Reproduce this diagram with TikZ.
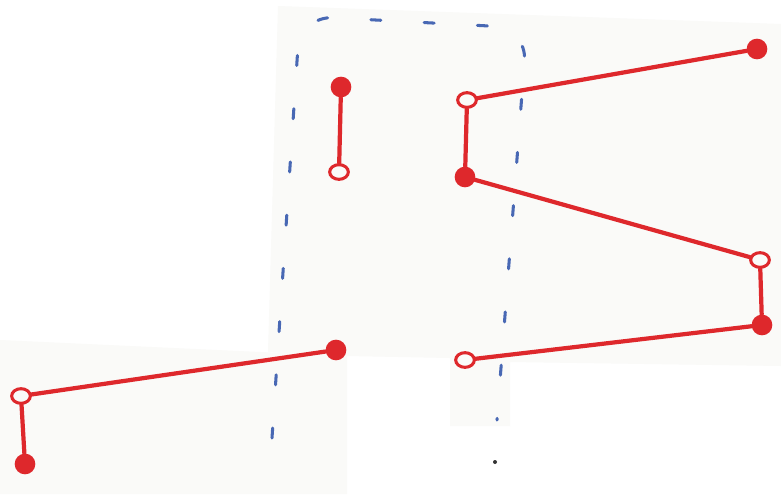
\documentclass[tikz,border=0pt]{standalone}
\usetikzlibrary{shapes.geometric}
\definecolor{inkred}{RGB}{222, 40, 44}
\definecolor{inkblue}{RGB}{72, 104, 180}
\definecolor{paper}{RGB}{250, 250, 248}

\begin{document}
\begin{tikzpicture}[
  x=0.03cm, y=-0.03cm,
  wire/.style={draw=inkred, line width=3.6pt, line cap=round},
  fulldot/.style={circle, fill=inkred, inner sep=0pt, minimum size=0.62cm},
  opendot/.style={ellipse, draw=inkred, line width=2.6pt, fill=paper, inner sep=0pt,
    minimum width=0.56cm, minimum height=0.44cm},
  guide/.style={draw=inkblue, line width=2.6pt, line cap=round,
    dash pattern=on 0.3cm off 1.3cm}
]
  \useasboundingbox[fill=white] (0,0) rectangle (781,494);

  % Paper pieces
  \fill[paper] (278,6) -- (781,24) -- (781,366) -- (510,362) -- (510,426) -- (450,426)
    -- (450,358) -- (347,356) -- (268,352) -- cycle;
  \fill[paper] (0,340) -- (347,356) -- (347,494) -- (0,494) -- cycle;

  % Dashed outline
  \draw[guide, rounded corners=28pt] (272,438) -- (300,16) -- (527,28) -- (497,420);

  % Short link
  \node[fulldot] (t1) at (341,87) {};
  \node[opendot] (t2) at (339,172) {};
  \draw[wire] (t1) -- (t2);

  % Right chain
  \node[fulldot] (r1) at (757,49) {};
  \node[opendot] (r2) at (467,100) {};
  \node[fulldot] (r3) at (465,177) {};
  \node[opendot] (r4) at (760,260) {};
  \node[fulldot] (r5) at (762,325) {};
  \node[opendot] (r6) at (465,360) {};
  \draw[wire] (r1) -- (r2);
  \draw[wire] (r2) -- (r3);
  \draw[wire] (r3) -- (r4);
  \draw[wire] (r4) -- (r5);
  \draw[wire] (r5) -- (r6);

  % Left chain
  \node[fulldot] (l1) at (336,350) {};
  \node[opendot] (l2) at (21,396) {};
  \node[fulldot] (l3) at (25,464) {};
  \draw[wire] (l1) -- (l2);
  \draw[wire] (l2) -- (l3);

  \fill[black!80] (495,462) circle (0.06cm);
\end{tikzpicture}
\end{document}
